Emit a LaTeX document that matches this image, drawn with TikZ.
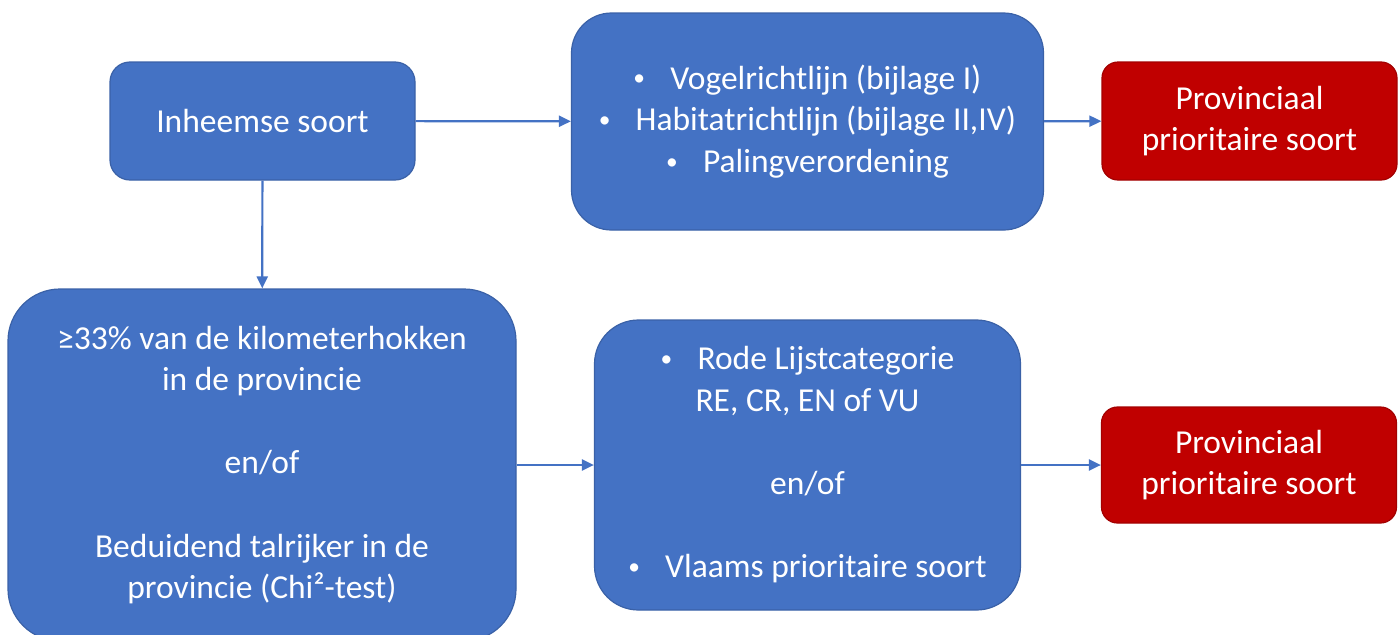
\documentclass[tikz,border=0pt]{standalone}
\usepackage{fontspec}
\setmainfont{Carlito}
\usepackage{tikz}
\usetikzlibrary{arrows.meta}

\definecolor{boxblue}{HTML}{4472C4}
\definecolor{boxred}{HTML}{C00000}
\newcommand{\bul}{\raisebox{0.1em}{\scalebox{0.7}{\textbullet}}\hspace{0.75em}}

\begin{document}
\begin{tikzpicture}[x=0.5pt,y=0.5pt,>={Triangle[length=6pt,width=5.5pt]},
  every node/.style={font=\fontsize{16.75}{20.8}\selectfont,text=white,align=center,inner sep=0pt},
  bluebox/.style={fill=boxblue,draw=boxblue!85!black,line width=0.6pt},
  redbox/.style={fill=boxred,draw=boxred!85!black,line width=0.6pt,rounded corners=8pt,
    minimum width=147.5pt,minimum height=59pt},
  link/.style={->,draw=boxblue,line width=1.1pt}]

\useasboundingbox (0,0) rectangle (1398,634);

% {bovenste rij}
\node[bluebox,rounded corners=10pt,minimum width=152.5pt,minimum height=59pt]
  (inheems) at (262.5,513) {Inheemse soort};
\node[bluebox,rounded corners=20pt,minimum width=236pt,minimum height=108.5pt]
  (richtlijn) at (807.5,512.5)
  {\bul Vogelrichtlijn (bijlage I)\\ \bul Habitatrichtlijn (bijlage II,IV)\\ \bul Palingverordening};
\node[redbox] (prov1) at (1249.5,513) {Provinciaal\\prioritaire soort};

% {onderste rij}
\node[bluebox,rounded corners=26pt,minimum width=254pt,minimum height=176pt]
  (verspreiding) at (262,169)
  {≥33\% van de kilometerhokken\\in de provincie\\[20.8pt]en/of\\[20.8pt]Beduidend talrijker in de\\provincie (Chi²-test)};
\node[bluebox,rounded corners=22pt,minimum width=213pt,minimum height=145pt]
  (rodelijst) at (807.5,169)
  {\bul Rode Lijstcategorie\\RE, CR, EN of VU\\[20.8pt]en/of\\[20.8pt]\bul Vlaams prioritaire soort};
\node[redbox,minimum height=58pt] (prov2) at (1249,169) {Provinciaal\\prioritaire soort};

\draw[link] (inheems) -- (richtlijn);
\draw[link] (richtlijn) -- (prov1);
\draw[link] (inheems) -- (verspreiding);
\draw[link] (verspreiding.east) -- (rodelijst.west);
\draw[link] (rodelijst) -- (prov2);
\end{tikzpicture}
\end{document}
